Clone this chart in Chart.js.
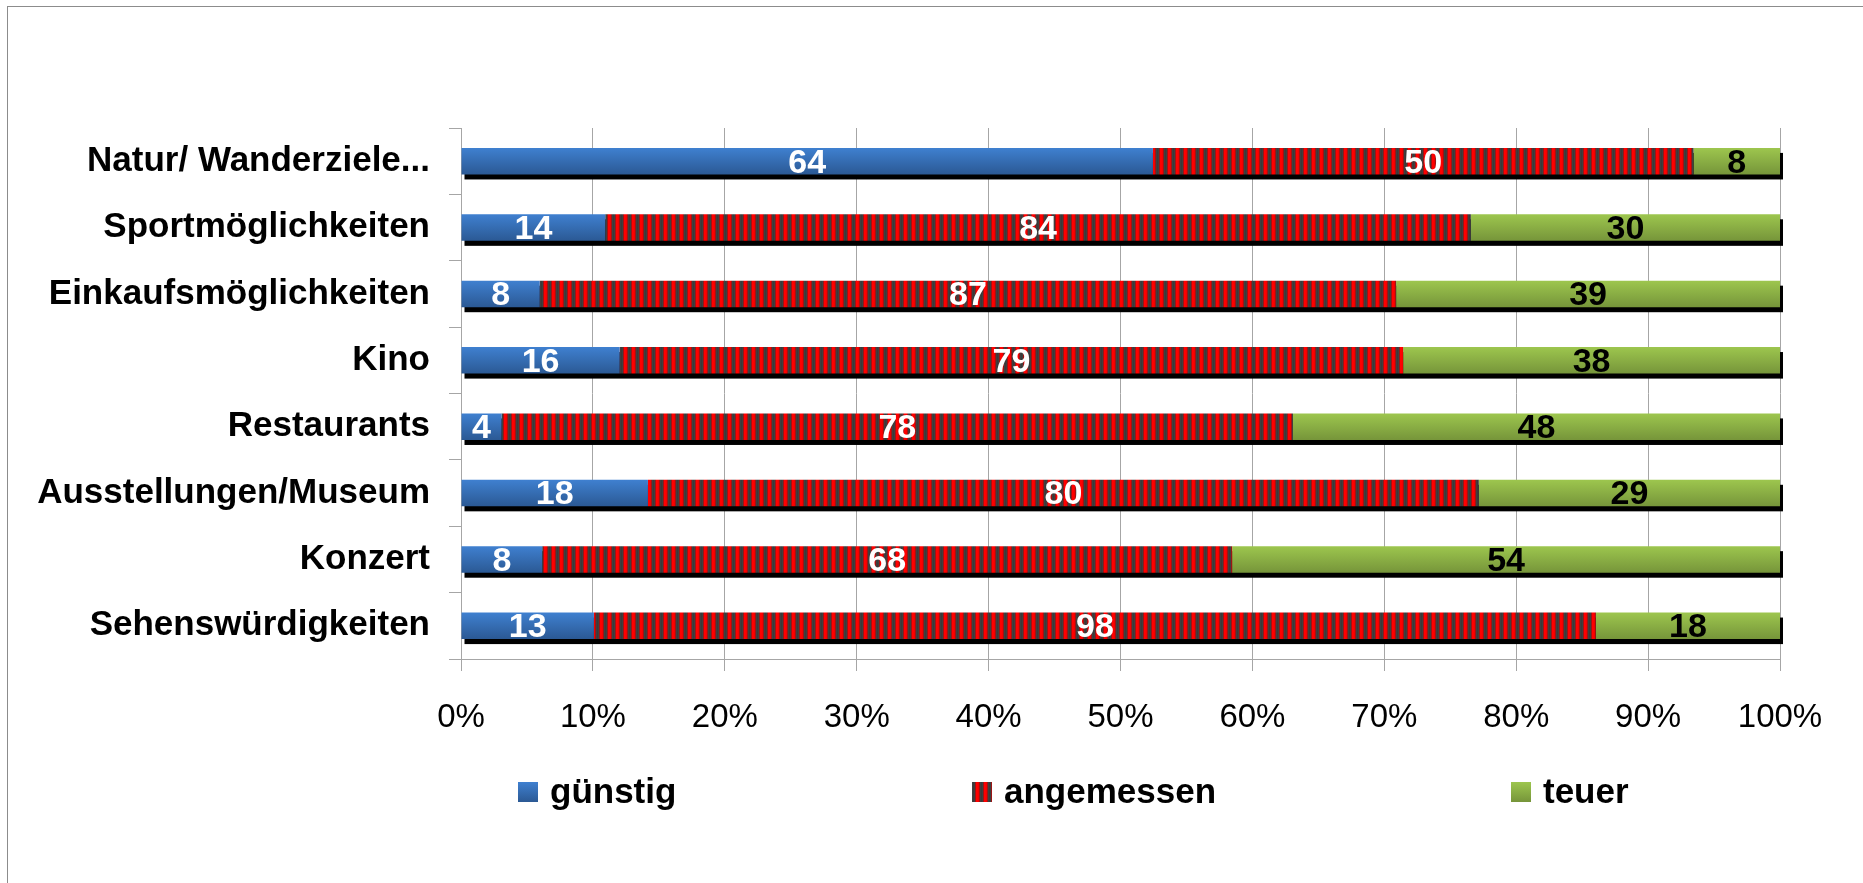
<!DOCTYPE html>
<html>
<head>
<meta charset="utf-8">
<script src="https://cdn.jsdelivr.net/npm/chart.js@4.4.1/dist/chart.umd.min.js"></script>
<style>
html, body { margin: 0; padding: 0; background: #fff; }
#wrap { position: relative; width: 1863px; height: 883px; }
</style>
</head>
<body>
<div id="wrap"><canvas id="chart"></canvas></div>
<script>
// Daten
const categories = ['Natur/ Wanderziele...', 'Sportmöglichkeiten', 'Einkaufsmöglichkeiten', 'Kino',
  'Restaurants', 'Ausstellungen/Museum', 'Konzert', 'Sehenswürdigkeiten'];
const seriesNames = ['günstig', 'angemessen', 'teuer'];
const guenstig = [64, 14, 8, 16, 4, 18, 8, 13];
const angemessen = [50, 84, 87, 79, 78, 80, 68, 98];
const teuer = [8, 30, 39, 38, 48, 29, 54, 18];
const xTicks = [0, 10, 20, 30, 40, 50, 60, 70, 80, 90, 100];

const totals = categories.map((c, i) => guenstig[i] + angemessen[i] + teuer[i]);
const toPct = arr => arr.map((v, i) => v / totals[i] * 100);

const FONT = "'Liberation Sans', Arial, sans-serif";
Chart.defaults.font.family = FONT;
Chart.defaults.color = '#000';

const canvas = document.getElementById('chart');
const mainCtx = canvas.getContext('2d');
const BAR_PCT = 0.4;

// Streifenmuster für "angemessen"
function stripePattern() {
  const c = document.createElement('canvas');
  c.width = 8; c.height = 1;
  const x = c.getContext('2d');
  const cols = ['#ff0000', '#ff0000', '#f20000', '#9c1414', '#404040', '#3a3a3a', '#404040', '#9c1414'];
  cols.forEach((col, i) => { x.fillStyle = col; x.fillRect(i, 0, 1, 1); });
  return mainCtx.createPattern(c, 'repeat');
}
const stripes = stripePattern();

function vGradient(c, top, bottom) {
  const chart = c.chart;
  const ys = chart.scales.y;
  if (!ys || c.dataIndex === undefined) return top;
  const yc = ys.getPixelForValue(c.dataIndex);
  const h = ys.height / categories.length * BAR_PCT;
  if (!isFinite(yc) || !isFinite(h) || h <= 0) return top;
  const g = chart.ctx.createLinearGradient(0, yc - h / 2, 0, yc + h / 2);
  g.addColorStop(0, top);
  g.addColorStop(1, bottom);
  return g;
}

const blueTop = '#3f80d0', blueBottom = '#2b5994';
const greenTop = '#9dc64e', greenBottom = '#76953a';

// Rahmen
const frame = {
  id: 'frame',
  beforeDraw(chart) {
    const ctx = chart.ctx;
    ctx.save();
    ctx.fillStyle = '#fff';
    ctx.fillRect(0, 0, chart.width, chart.height);
    ctx.strokeStyle = '#8c8c8c';
    ctx.lineWidth = 1;
    ctx.strokeRect(7.5, 6.5, chart.width + 50, chart.height + 50);
    ctx.restore();
  }
};

// Schatten unter jedem ganzen Balken
const barShadow = {
  id: 'barShadow',
  beforeDatasetsDraw(chart) {
    const ctx = chart.ctx;
    const metas = chart.data.datasets.map((d, i) => chart.getDatasetMeta(i));
    ctx.save();
    ctx.fillStyle = '#000';
    categories.forEach((c, i) => {
      let left = Infinity, right = -Infinity, y = 0, h = 0;
      metas.forEach(m => {
        const b = m.data[i];
        left = Math.min(left, b.base, b.x);
        right = Math.max(right, b.base, b.x);
        y = b.y; h = b.height;
      });
      ctx.fillRect(left + 3, y - h / 2 + 5, right - left, h);
    });
    ctx.restore();
  }
};

// Werte in den Balken
const valueLabels = {
  id: 'valueLabels',
  afterDatasetsDraw(chart) {
    const ctx = chart.ctx;
    ctx.save();
    ctx.font = 'bold 34px ' + FONT;
    ctx.textAlign = 'center';
    ctx.textBaseline = 'middle';
    chart.data.datasets.forEach((ds, di) => {
      const meta = chart.getDatasetMeta(di);
      meta.data.forEach((bar, i) => {
        ctx.fillStyle = ds.labelColor;
        ctx.fillText(String(ds.counts[i]), (bar.x + bar.base) / 2, bar.y + 2);
      });
    });
    ctx.restore();
  }
};

// Legende
const customLegend = {
  id: 'customLegend',
  afterDraw(chart) {
    const ctx = chart.ctx;
    const xs = [518, 972, 1511];
    const y = 792, s = 20;
    ctx.save();
    ctx.font = 'bold 35px ' + FONT;
    ctx.textAlign = 'left';
    ctx.textBaseline = 'middle';
    seriesNames.forEach((name, i) => {
      const x = xs[i];
      let fill;
      if (i === 1) {
        fill = stripes;
      } else {
        fill = ctx.createLinearGradient(0, y - s / 2, 0, y + s / 2);
        fill.addColorStop(0, i === 0 ? blueTop : greenTop);
        fill.addColorStop(1, i === 0 ? blueBottom : greenBottom);
      }
      ctx.fillStyle = fill;
      ctx.fillRect(x, y - s / 2, s, s);
      ctx.fillStyle = '#000';
      ctx.fillText(name, x + 32, y + 1);
    });
    ctx.restore();
  }
};

new Chart(canvas, {
  type: 'bar',
  data: {
    labels: categories,
    datasets: [
      {
        label: seriesNames[0],
        data: toPct(guenstig),
        counts: guenstig,
        labelColor: '#fff',
        backgroundColor: c => vGradient(c, blueTop, blueBottom),
      },
      {
        label: seriesNames[1],
        data: toPct(angemessen),
        counts: angemessen,
        labelColor: '#fff',
        backgroundColor: stripes,
      },
      {
        label: seriesNames[2],
        data: toPct(teuer),
        counts: teuer,
        labelColor: '#000',
        backgroundColor: c => vGradient(c, greenTop, greenBottom),
      }
    ]
  },
  options: {
    indexAxis: 'y',
    responsive: true,
    maintainAspectRatio: false,
    animation: false,
    datasets: {
      bar: { barPercentage: BAR_PCT, categoryPercentage: 1, borderWidth: 0, inflateAmount: 0 }
    },
    layout: { padding: { top: 128, right: 83, bottom: 0, left: 0 } },
    plugins: {
      legend: { display: false },
      tooltip: { enabled: false }
    },
    scales: {
      x: {
        stacked: true,
        min: 0,
        max: 100,
        afterBuildTicks: scale => { scale.ticks = xTicks.map(v => ({ value: v })); },
        ticks: {
          callback: v => v + '%',
          font: { size: 33 },
          color: '#000',
          padding: 27,
          maxRotation: 0,
          autoSkip: false
        },
        grid: { color: '#a6a6a6', tickLength: 12, lineWidth: 1 },
        border: { color: '#a6a6a6' },
        afterFit: s => { s.height = 224; }
      },
      y: {
        stacked: true,
        ticks: { font: { size: 35, weight: 'bold' }, color: '#000', padding: 19 },
        grid: { drawOnChartArea: false, tickLength: 12, color: '#a6a6a6' },
        border: { color: '#a6a6a6' },
        afterFit: s => { s.width = 461; }
      }
    }
  },
  plugins: [frame, barShadow, valueLabels, customLegend]
});
</script>
</body>
</html>
